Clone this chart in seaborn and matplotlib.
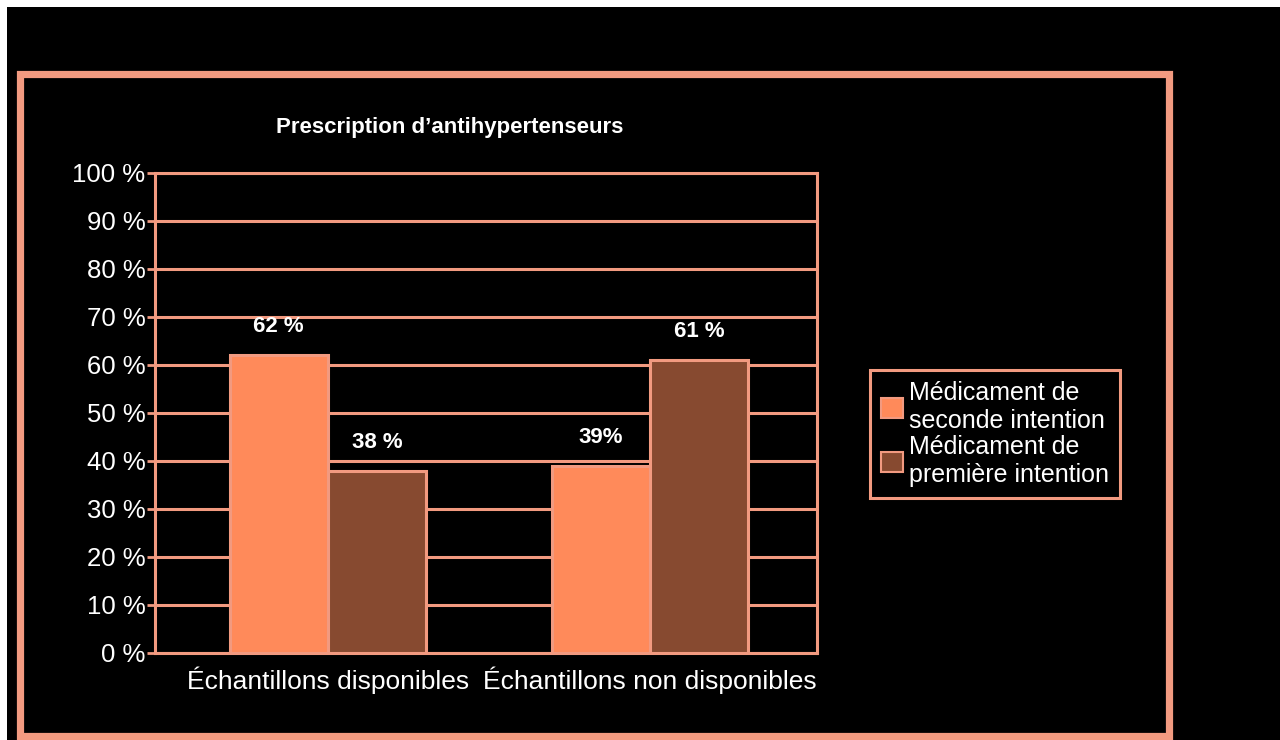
import matplotlib
matplotlib.use("Agg")
import matplotlib.pyplot as plt
import seaborn as sns
import pandas as pd
from matplotlib.patches import Rectangle, Patch

# ---- data ----
categories = ["Échantillons disponibles", "Échantillons non disponibles"]
series_names = ["Médicament de\nseconde intention", "Médicament de\npremière intention"]
seconde_intention = [62, 39]
premiere_intention = [38, 61]
value_labels_seconde = ["62 %", "39%"]
value_labels_premiere = ["38 %", "61 %"]
yticks = [0, 10, 20, 30, 40, 50, 60, 70, 80, 90, 100]
ytick_labels = [f"{v} %" for v in yticks]
title = "Prescription d\u2019antihypertenseurs"

# ---- styles ----
SALMON = "#f29a80"
ORANGE = "#ff8a5a"
BROWN = "#874a30"
W, H = 1280, 740

sns.set_style("dark")
plt.rcParams["font.family"] = ["Liberation Sans", "DejaVu Sans"]

df = pd.DataFrame({
    "cat": categories * 2,
    "serie": [series_names[0]] * 2 + [series_names[1]] * 2,
    "val": seconde_intention + premiere_intention,
})

fig = plt.figure(figsize=(W / 100, H / 100), dpi=100, facecolor="black")

# white strips (cropped screenshot edges)
fig.patches.append(Rectangle((0, 1 - 7 / H), 1, 7 / H, transform=fig.transFigure,
                             facecolor="white", edgecolor="none", zorder=0))
fig.patches.append(Rectangle((0, 0), 7 / W, 1, transform=fig.transFigure,
                             facecolor="white", edgecolor="none", zorder=0))
# salmon frame
fig.patches.append(Rectangle((19.5 / W, 1 - 736 / H), (1168.5 - 19.5) / W, (736 - 73.5) / H,
                             transform=fig.transFigure, facecolor="none",
                             edgecolor=SALMON, linewidth=5.2, zorder=1))

left, right, top, bottom = 155, 817, 173, 653
ax = fig.add_axes([left / W, 1 - bottom / H, (right - left) / W, (bottom - top) / H])
ax.set_facecolor("black")

sns.barplot(data=df, x="cat", y="val", hue="serie", hue_order=series_names,
            palette=[ORANGE, BROWN], width=0.61, dodge=True, ax=ax,
            edgecolor=SALMON, linewidth=2.2, legend=False, zorder=3, saturation=1)

# value labels
labels_by_hue = [value_labels_seconde, value_labels_premiere]
for container, labs in zip(ax.containers, labels_by_hue):
    ax.bar_label(container, labels=labs, padding=13, color="white",
                 fontsize=16, fontweight="bold")

ax.set_ylim(0, 100)
ax.set_xlim(-0.537, 1.519)
ax.set_yticks(yticks)
ax.set_yticklabels(ytick_labels)
ax.set_xlabel("")
ax.set_ylabel("")
ax.grid(False)
for y in yticks:
    ax.axhline(y, color=SALMON, linewidth=2.2, zorder=1)

for s in ax.spines.values():
    s.set_visible(True)
    s.set_color(SALMON)
    s.set_linewidth(2.2)
ax.tick_params(axis="y", colors=SALMON, labelcolor="white", labelsize=18.5,
               length=6, width=2, direction="out", pad=1, left=True)
ax.tick_params(axis="x", colors=SALMON, labelcolor="white", labelsize=19,
               length=0, pad=10)

fig.text(450 / W, 1 - 128 / H, title, color="white", fontsize=16,
         fontweight="bold", ha="center", va="center")

handles = [Patch(facecolor=ORANGE, edgecolor=SALMON, linewidth=1.5),
           Patch(facecolor=BROWN, edgecolor=SALMON, linewidth=1.5)]
leg = fig.legend(handles, series_names, loc="upper left",
                 bbox_to_anchor=(870 / W, 1 - 370 / H), bbox_transform=fig.transFigure,
                 frameon=True, fontsize=18, labelcolor="white", borderaxespad=0,
                 handlelength=0.85, handleheight=0.85, handletextpad=0.25,
                 borderpad=0.45, labelspacing=0.05, fancybox=False)
for t in leg.get_texts():
    t.set_linespacing(1.22)
fr = leg.get_frame()
fr.set_facecolor("black")
fr.set_edgecolor(SALMON)
fr.set_linewidth(2.2)
fr.set_alpha(1)

fig.savefig("out.png", dpi=100, facecolor="black")
